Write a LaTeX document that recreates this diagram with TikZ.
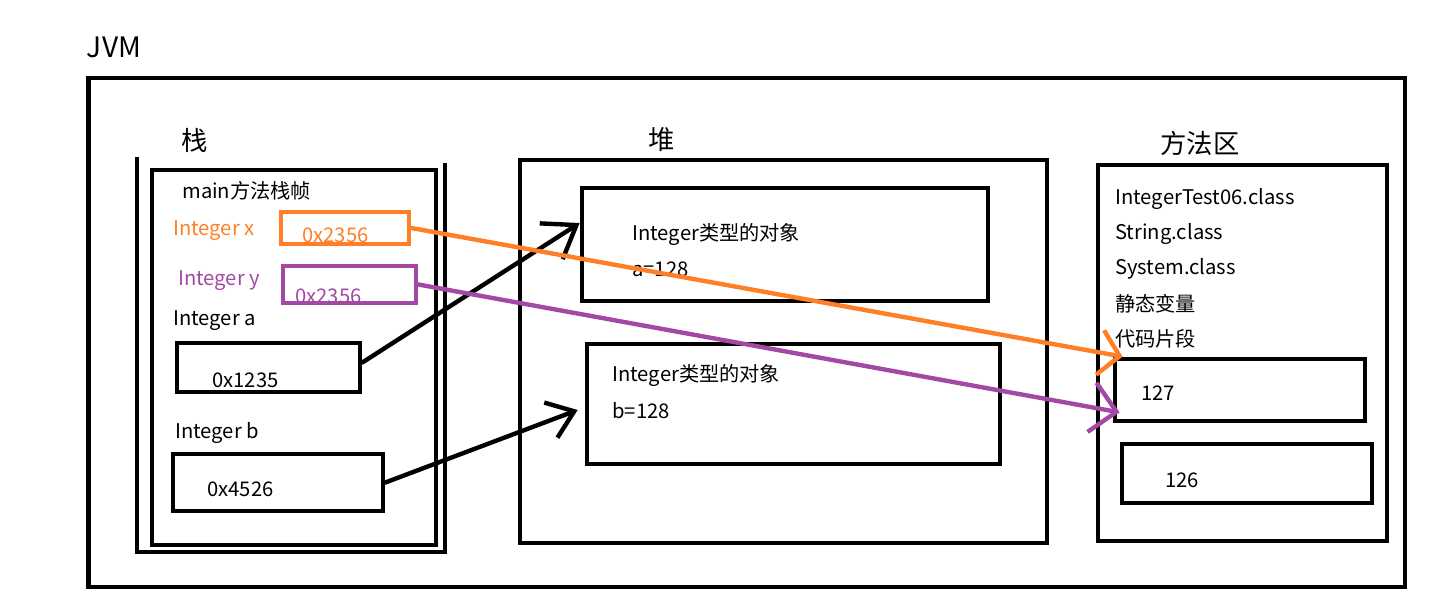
\documentclass[tikz,border=0pt]{standalone}
\usepackage{fontspec}
\setmainfont{Noto Sans CJK SC}
\usetikzlibrary{arrows.meta}
\definecolor{xorange}{HTML}{FF7F27}
\definecolor{ypurple}{HTML}{A349A4}
\tikzset{
 box/.style={draw, line width=2.7pt, inner sep=0pt},
 txt/.style={anchor=west, inner sep=0pt, yshift=-0.06cm, font=\fontsize{11.5}{13}\selectfont},
 title/.style={inner sep=0pt, font=\fontsize{15}{17}\selectfont},
 ref/.style={line width=2.5pt, line cap=round},
}
\begin{document}
\begin{tikzpicture}[x=0.02cm, y=-0.02cm]
\useasboundingbox (0,0) rectangle (1456,614);

\node[title, font=\fontsize{16}{18}\selectfont] (jvmname) at (114,47) {JVM};
\node[box, minimum width=26.34cm, minimum height=10.18cm] (jvm) at (746.5,332.5) {};

\node[title] (stackname) at (195,140) {栈};
\draw[line width=2.7pt] (137,157) -- (137,552) -- (445,552) -- (445,163);
\node[box, minimum width=5.68cm, minimum height=7.5cm] (frame) at (294,357.5) {};
\node[txt] (framename) at (182,188) {main方法栈帧};
\node[txt, text=xorange] (xname) at (173,228) {Integer x};
\node[box, draw=xorange, minimum width=2.56cm, minimum height=0.64cm] (xval) at (345,228) {};
\node[txt, text=xorange] (xtext) at (302,232) {0x2356};
\node[txt, text=ypurple] (yname) at (178,278) {Integer y};
\node[box, draw=ypurple, minimum width=2.66cm, minimum height=0.74cm] (yval) at (349.5,284.5) {};
\node[txt, text=ypurple] (ytext) at (295,293) {0x2356};
\node[txt] (aname) at (173,318) {Integer a};
\node[box, minimum width=3.66cm, minimum height=0.98cm] (ptrA) at (268.5,367.5) {};
\node[txt] (atext) at (212,377) {0x1235};
\node[txt] (bname) at (175,430) {Integer b};
\node[box, minimum width=4.2cm, minimum height=1.14cm] (ptrB) at (278,482.5) {};
\node[txt] (btext) at (207,486) {0x4526};

\node[title] (heapname) at (662,140) {堆};
\node[box, minimum width=10.54cm, minimum height=7.66cm] (heap) at (783.5,351.5) {};
\node[box, minimum width=8.12cm, minimum height=2.26cm] (objA) at (785,244.5) {};
\node[txt] (objAtype) at (632,232) {Integer类型的对象};
\node[txt] (objAval) at (632,266) {a=128};
\node[box, minimum width=8.26cm, minimum height=2.4cm] (objB) at (793.5,404) {};
\node[txt] (objBtype) at (612,373) {Integer类型的对象};
\node[txt] (objBval) at (612,408) {b=128};

\node[title] (methodname) at (1200,143) {方法区};
\node[box, minimum width=5.78cm, minimum height=7.52cm] (method) at (1242.5,353) {};
\node[txt] (cls1) at (1115,196) {IntegerTest06.class};
\node[txt] (cls2) at (1115,231) {String.class};
\node[txt] (cls3) at (1115,266) {System.class};
\node[txt] (statics) at (1115,301) {静态变量};
\node[txt] (code) at (1115,336) {代码片段};
\node[box, minimum width=5cm, minimum height=1.24cm] (v127) at (1240,390) {};
\node[txt] (t127) at (1141,390) {127};
\node[box, minimum width=5cm, minimum height=1.18cm] (v126) at (1247,473.5) {};
\node[txt] (t126) at (1165,477) {126};

\draw[ref, -{Straight Barb[length=0.6cm, width=0.85cm]}] ([yshift=0.1cm]ptrA.east) -- ([yshift=0.43cm]objA.west);
\draw[ref, -{Straight Barb[length=0.5cm, width=0.75cm]}] (ptrB.east) -- ([xshift=-0.14cm, yshift=-0.12cm]objB.west);
\draw[ref, xorange, -{Straight Barb[length=0.4cm, width=0.9cm]}] (xval.east) -- ([xshift=0.2cm]v127.north west);
\draw[ref, ypurple, -{Straight Barb[length=0.5cm, width=1cm]}] (yval.east) -- ([xshift=0.14cm, yshift=0.22cm]v127.south west);
\end{tikzpicture}
\end{document}
